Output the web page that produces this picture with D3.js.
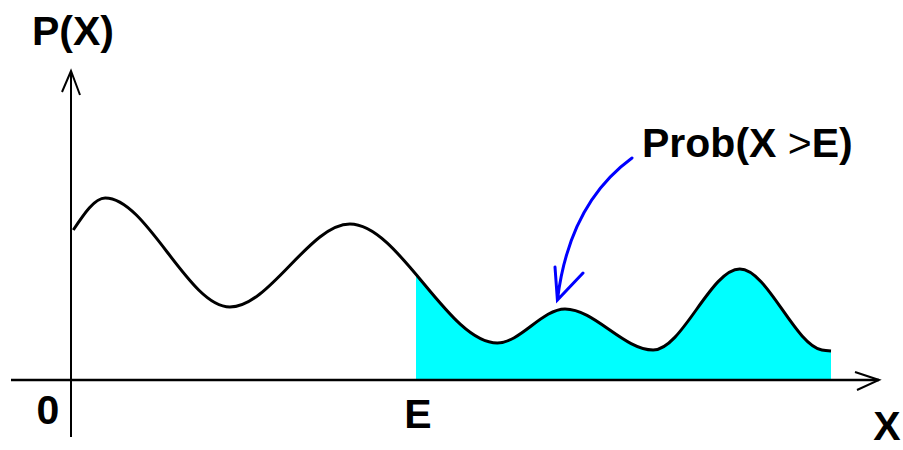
<!doctype html>
<html lang="en">
<head>
  <style>
    body { margin: 0; background: #fff; }
    .lbl { font-family: "Liberation Sans", Arial, sans-serif; font-weight: bold; font-size: 41px; fill: #000; }
  </style>
  <script src="https://d3js.org/d3.v7.min.js"></script>
</head>
<body>
  <script>
    // density curve: its turning points (x in arbitrary units, y = P(X))
    const xs = [0.03, 0.45, 2.09, 3.67, 5.61, 6.5, 7.66, 8.8, 9.88, 10.0];
    const ps = [0.75, 0.91, 0.365, 0.78, 0.185, 0.355, 0.15, 0.555, 0.15, 0.145];
    const E = 4.54;
    const tickLabels = ["0", "E"];

    const width = 903, height = 450;
    const svg = d3.select("body").append("svg")
        .attr("width", width)
        .attr("height", height);

    const x = d3.scaleLinear().domain([0, 10]).range([71, 831]);
    const y = d3.scaleLinear().domain([0, 1]).range([380, 180]);

    const data = xs.map((v, i) => ({ x: v, p: ps[i] }));
    const curve = d3.curveMonotoneX;

    svg.append("clipPath").attr("id", "tail")
      .append("rect")
        .attr("x", x(E)).attr("y", 0)
        .attr("width", x(10) - x(E)).attr("height", y(0));

    svg.append("path")
        .datum(data)
        .attr("clip-path", "url(#tail)")
        .attr("fill", "#00ffff")
        .attr("d", d3.area().x(d => x(d.x)).y0(y(0)).y1(d => y(d.p)).curve(curve));

    // axes with open arrow heads
    const ax = svg.append("g").attr("stroke", "#000").attr("fill", "none");
    ax.append("line").attr("x1", 11).attr("x2", 879).attr("y1", y(0)).attr("y2", y(0)).attr("stroke-width", 2.5);
    ax.append("path").attr("stroke-width", 2).attr("d", `M855,${y(0) - 8}L879,${y(0)}L857,${y(0) + 10}`);
    ax.append("line").attr("x1", x(0)).attr("x2", x(0)).attr("y1", 437).attr("y2", 71).attr("stroke-width", 2);
    ax.append("path").attr("stroke-width", 2).attr("d", `M${x(0) - 9},92L${x(0)},71L${x(0) + 9},95`);

    svg.append("path")
        .datum(data)
        .attr("fill", "none")
        .attr("stroke", "#000")
        .attr("stroke-width", 3)
        .attr("d", d3.line().x(d => x(d.x)).y(d => y(d.p)).curve(curve));

    // labels
    svg.append("text").attr("class", "lbl").attr("x", 32).attr("y", 45).text("P(X)");
    svg.append("text").attr("class", "lbl").attr("x", x(0) - 23).attr("y", 424)
        .attr("text-anchor", "middle").text(tickLabels[0]);
    svg.append("text").attr("class", "lbl").attr("x", x(E) + 2).attr("y", 428)
        .attr("text-anchor", "middle").text(tickLabels[1]);
    svg.append("text").attr("class", "lbl").attr("x", 887).attr("y", 440)
        .attr("text-anchor", "middle").text("X");

    const t = svg.append("text").attr("class", "lbl").attr("x", 642).attr("y", 157);
    t.append("tspan").text("Prob(X ");
    t.append("tspan").attr("font-weight", "normal").text(">");
    t.append("tspan").text("E)");

    // blue pointer
    const tip = [x(6.4), y(0.4)];
    svg.append("path")
        .attr("fill", "none").attr("stroke", "#0000ff").attr("stroke-width", 3).attr("stroke-linecap", "round")
        .attr("d", `M632,158C595,185 566,230 ${tip[0]},${tip[1]}M555,267L${tip[0]},${tip[1]}L583,273`);
  </script>
</body>
</html>
